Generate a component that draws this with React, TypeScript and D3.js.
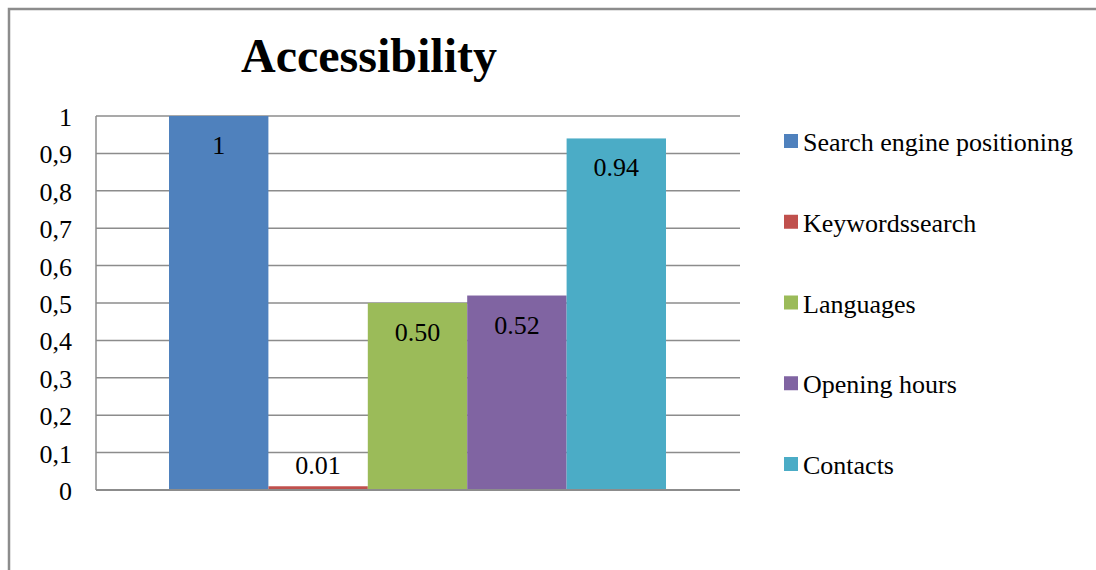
import React from "react";
import * as d3 from "d3";

const categories = ["Search engine positioning", "Keywordssearch", "Languages", "Opening hours", "Contacts"];
const values = [1, 0.01, 0.5, 0.52, 0.94];
const labels = ["1", "0.01", "0.50", "0.52", "0.94"];
const colors = ["#4F81BD", "#C0504D", "#9BBB59", "#8064A2", "#4BACC6"];
const yTicks = [0, 0.1, 0.2, 0.3, 0.4, 0.5, 0.6, 0.7, 0.8, 0.9, 1];
const yTickLabels = ["0", "0,1", "0,2", "0,3", "0,4", "0,5", "0,6", "0,7", "0,8", "0,9", "1"];
const title = "Accessibility";

export default function App() {
  const W = 1096, H = 570;
  const plotL = 96, plotR = 740, plotT = 116, plotB = 490;
  const y = d3.scaleLinear().domain([0, 1]).range([plotB, plotT]);
  const x = d3.scaleBand<string>().domain(categories).range([169, 666]).paddingInner(0);
  const legendY = d3.scalePoint<string>().domain(categories).range([151, 474]);
  const ts = { fontFamily: "'Liberation Serif', 'Times New Roman'" };

  return (
    <svg width={W} height={H} style={{ position: "absolute", left: 0, top: 0 }}>
      <rect x={9} y={9} width={W + 20} height={H + 20} fill="#fff" stroke="#8c8c8c" strokeWidth={2.5} />
      <text x={369} y={72} textAnchor="middle" fontSize={48} fontWeight="bold" fill="#000" style={ts}>{title}</text>
      {yTicks.map((t) => (
        <line key={t} x1={plotL} x2={plotR} y1={y(t)} y2={y(t)} stroke="#8c8c8c" strokeWidth={1.5} />
      ))}
      <line x1={plotL} x2={plotL} y1={plotT} y2={plotB} stroke="#8c8c8c" strokeWidth={1.5} />
      {yTicks.map((t, i) => (
        <text key={"l" + t} x={72} y={y(t) + 10} textAnchor="end" fontSize={26} fill="#000" style={ts}>{yTickLabels[i]}</text>
      ))}
      {categories.map((c, i) => (
        <rect key={c} x={x(c)} y={y(values[i])} width={x.bandwidth()} height={plotB - y(values[i])} fill={colors[i]} />
      ))}
      <line x1={plotL} x2={plotR} y1={plotB} y2={plotB} stroke="#8c8c8c" strokeWidth={2} />
      {categories.map((c, i) => {
        const inside = values[i] > 0.1;
        const by = inside ? y(values[i]) + 38 : y(values[i]) - 12;
        return (
          <text key={"v" + c} x={(x(c) as number) + x.bandwidth() / 2} y={by} textAnchor="middle" fontSize={26} fill="#000" style={ts}>{labels[i]}</text>
        );
      })}
      {categories.map((c, i) => (
        <g key={"lg" + c}>
          <rect x={784} y={(legendY(c) as number) - 17} width={14} height={14} fill={colors[i]} />
          <text x={803} y={legendY(c) as number} fontSize={26} fill="#000" style={ts}>{c}</text>
        </g>
      ))}
    </svg>
  );
}
